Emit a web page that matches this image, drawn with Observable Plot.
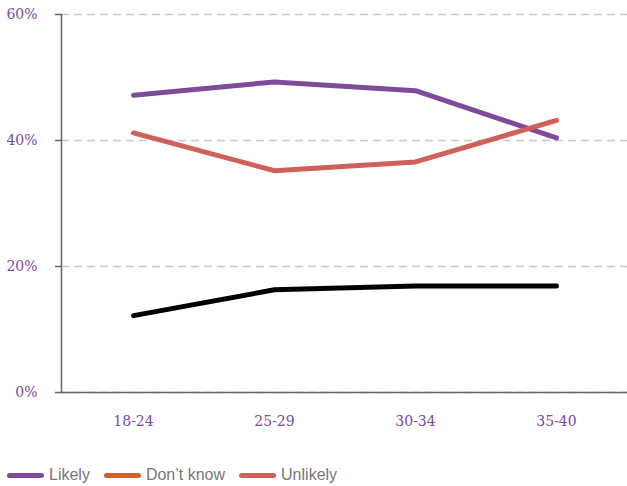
<!DOCTYPE html>
<html>
<head>
<meta charset="utf-8">
<script src="https://cdn.jsdelivr.net/npm/d3@7"></script>
<script src="https://cdn.jsdelivr.net/npm/@observablehq/plot@0.6"></script>
<style>
  html, body { margin: 0; padding: 0; background: #fff; overflow: hidden; }
  #legend { display: flex; align-items: center; height: 70px; padding-left: 7px; font-family: "Liberation Sans", Arial, sans-serif; font-size: 16px; color: #777; }
  .item { display: flex; align-items: center; margin-right: 14px; }
  .sw { width: 37px; height: 5px; border-radius: 3px; margin-right: 5px; }
</style>
</head>
<body>
<div id="chart"></div>
<div id="legend"></div>
<script>
const ageGroups = ["18-24", "25-29", "30-34", "35-40"];
const seriesNames = ["Likely", "Don’t know", "Unlikely"];
const likely = [47.2, 49.3, 47.9, 40.4];
const dontKnow = [12.2, 16.3, 16.9, 16.9];
const unlikely = [41.2, 35.2, 36.6, 43.2];
const yTicks = [0, 20, 40, 60];
const lineColors = ["#7e4b9b", "#000000", "#cf605a"];
const legendColors = ["#7e4b9b", "#d0622a", "#cf605a"];

const rows = [];
[likely, dontKnow, unlikely].forEach((vals, s) => {
  vals.forEach((v, i) => rows.push({age: ageGroups[i], value: v, series: seriesNames[s]}));
});

const serif = "'DejaVu Serif', 'Liberation Serif', Georgia, serif";
const chart = Plot.plot({
  width: 627,
  height: 440,
  marginTop: 14,
  marginBottom: 48,
  marginLeft: 61,
  marginRight: 0,
  style: {fontFamily: serif, fontSize: "14px", color: "#7b4a9a", background: "#fff"},
  x: {type: "point", domain: ageGroups, padding: 0.5, label: null},
  y: {domain: [0, 60], label: null},
  color: {domain: seriesNames, range: lineColors},
  marks: [
    Plot.gridY(yTicks, {stroke: "#c8c8c8", strokeOpacity: 1, strokeDasharray: "8,5", strokeWidth: 1.3}),
    Plot.frame({anchor: "left", stroke: "#666", strokeWidth: 1.5}),
    Plot.ruleY([0], {stroke: "#666", strokeWidth: 1.5}),
    Plot.axisY(yTicks, {tickSize: 6, tickPadding: 18, tickFormat: d => d + "%", stroke: "#666", strokeWidth: 1.5, fill: "#7b4a9a", label: null}),
    Plot.axisX({tickSize: 0, tickPadding: 24, fill: "#7b4a9a", label: null}),
    Plot.line(rows, {x: "age", y: "value", z: "series", stroke: "series", strokeWidth: 5, strokeLinecap: "round", strokeLinejoin: "round"})
  ]
});
document.getElementById("chart").append(chart);

const legend = document.getElementById("legend");
seriesNames.forEach((name, i) => {
  const item = document.createElement("div");
  item.className = "item";
  const sw = document.createElement("span");
  sw.className = "sw";
  sw.style.background = legendColors[i];
  const t = document.createElement("span");
  t.textContent = name;
  item.append(sw, t);
  legend.append(item);
});
</script>
</body>
</html>
